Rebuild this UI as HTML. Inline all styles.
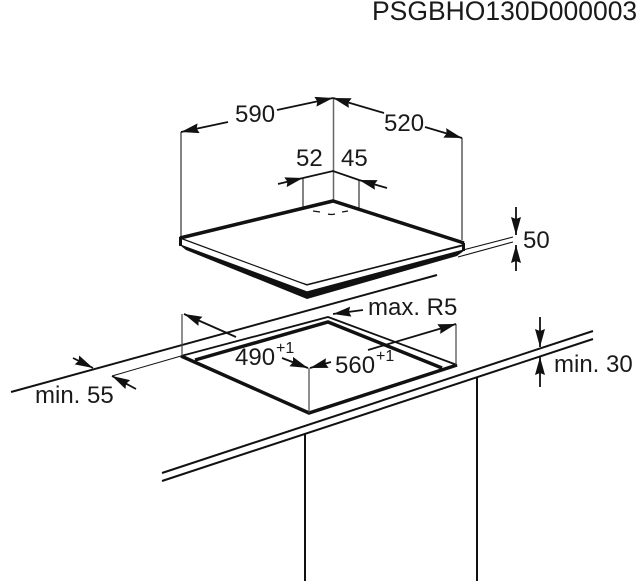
<!DOCTYPE html>
<html><head><meta charset="utf-8"><style>
html,body{margin:0;padding:0;background:#fff}
svg{display:block}
text{font-family:"Liberation Sans",sans-serif;fill:#1a1a1a;font-size:24px}
.s{font-size:16px}
</style></head><body>
<svg width="644" height="588" viewBox="0 0 644 588" xmlns="http://www.w3.org/2000/svg">
<defs>
<marker id="a" markerUnits="userSpaceOnUse" markerWidth="20" markerHeight="12" refX="18" refY="5" orient="auto"><path d="M0 0L18 5L0 10L2 5Z" fill="#111"/></marker>
</defs>
<g fill="none" stroke="#111" stroke-linecap="butt">
<!-- dimension verticals -->
<path d="M181 132V237M462 138V240M303 178V208M359 180V210" stroke-width="1.2" stroke="#333"/>
<path d="M333.5 98V200" stroke-width="1.5" stroke="#666"/>
<g stroke-width="1.8">
<path d="M228 122L181 132" marker-end="url(#a)"/>
<path d="M277 110L333 98" marker-end="url(#a)"/>
<path d="M384 113L333 98" marker-end="url(#a)"/>
<path d="M425 127L462 138" marker-end="url(#a)"/>
<path d="M278 184L303 178" marker-end="url(#a)"/>
<path d="M387 188L359 180" marker-end="url(#a)"/>
</g>
<path d="M303 178L333 171L359 180" stroke-width="1.8"/>
<!-- hob -->
<path d="M181 246L186 250L307 299L457 256L465 250L464 244L307 284Z" fill="#111" stroke="none"/>
<path d="M180 238L307 285L464 246V250L307 292L180 245Z" fill="#fff" stroke="none"/>
<path d="M180 238L333 201L464 243" stroke-width="3.5"/>
<path d="M180 238L307 285L464 245" stroke-width="1.2" fill="none"/>
<path d="M180 245L307 292L464 250" stroke-width="1.4"/>
<path d="M180.5 237V246M463.5 243V251" stroke-width="3"/>
<path d="M313 211L320 212M328 214Q331 215 335 214M342 212L348 211" stroke-width="1.2"/>
<!-- 50 dim -->
<path d="M516 207V235" stroke-width="1.8" marker-end="url(#a)"/>
<path d="M516 271V245" stroke-width="1.8" marker-end="url(#a)"/>
<path d="M463 250L513 237M458 257L513 242" stroke-width="1.1"/>
<!-- worktop rear lines -->
<path d="M11 392L437 275" stroke-width="2"/>
<path d="M112 376L181 356" stroke-width="1"/>
<!-- cutout -->
<path d="M181 356L328 317L457 365" stroke-width="1.8"/>
<path d="M195 360L328 322L442 368" stroke-width="3.5"/>
<path d="M181 356L309 413L457 365" stroke-width="3.5"/>
<path d="M182 356V314M456 365V324M309 413V368" stroke-width="1.2" stroke="#444"/>
<path d="M236 337L184 314" stroke-width="1.8" marker-end="url(#a)"/>
<path d="M368 350L456 324" stroke-width="1.8" marker-end="url(#a)"/>
<path d="M282 358L308 368" stroke-width="1.8" marker-end="url(#a)"/>
<path d="M331 362L310 368" stroke-width="1.8" marker-end="url(#a)"/>
<path d="M363 310L333 314" stroke-width="1.8" marker-end="url(#a)"/>
<path d="M73 358L93 368" stroke-width="1.8" marker-end="url(#a)"/>
<path d="M136 389L112 376" stroke-width="1.8" marker-end="url(#a)"/>
<!-- counter -->
<path d="M162 473L593 331M162 481L593 339" stroke-width="2"/>
<path d="M305 433V581M477 377V581" stroke-width="2"/>
<path d="M540 317V347" stroke-width="1.8" marker-end="url(#a)"/>
<path d="M540 387V357" stroke-width="1.8" marker-end="url(#a)"/>
</g>
<text x="372" y="20" style="font-size:26.5px">PSGBHO130D000003</text>
<text x="235" y="122">590</text>
<text x="384" y="131">520</text>
<text x="296" y="166">52</text>
<text x="341" y="166">45</text>
<text x="523" y="248">50</text>
<text x="368" y="315">max. R5</text>
<text x="35" y="403">min. 55</text>
<text x="235" y="365">490</text>
<text x="276" y="353" class="s">+1</text>
<text x="335" y="373">560</text>
<text x="376" y="361" class="s">+1</text>
<text x="554" y="372">min. 30</text>
</svg>
</body></html>
